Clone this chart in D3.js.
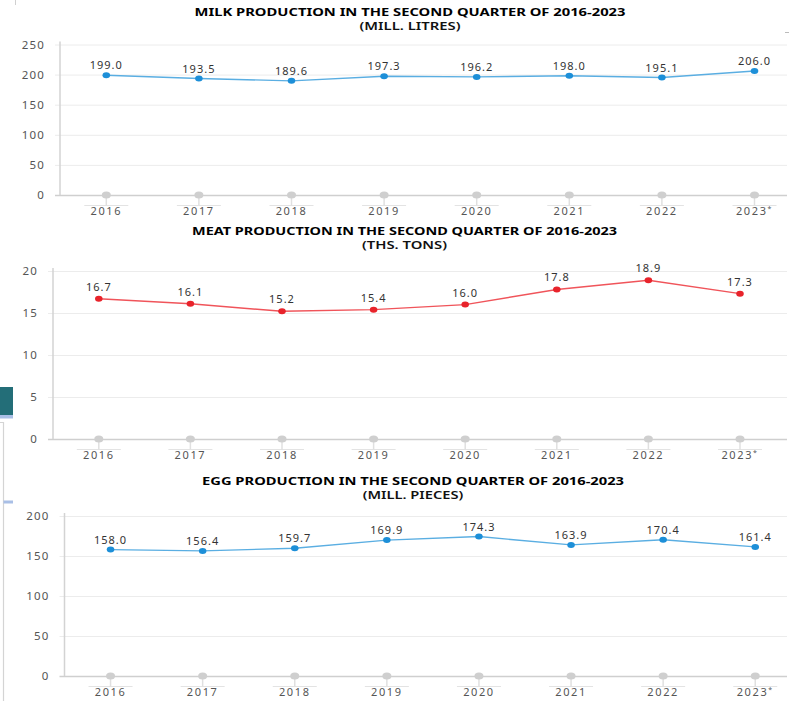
<!DOCTYPE html>
<html>
<head>
<meta charset="utf-8">
<script src="https://cdn.jsdelivr.net/npm/d3@7"></script>
<style>
  html, body { margin: 0; padding: 0; background: #fff; }
  svg { display: block; }
  text { font-family: "Noto Sans", "Open Sans", sans-serif; }
</style>
</head>
<body>
<svg id="chart" width="789" height="701"></svg>
<script>
// Production figures, second quarter of each year
const years = ["2016", "2017", "2018", "2019", "2020", "2021", "2022", "2023"];
const milkValues = [199.0, 193.5, 189.6, 197.3, 196.2, 198.0, 195.1, 206.0];
const meatValues = [16.7, 16.1, 15.2, 15.4, 16.0, 17.8, 18.9, 17.3];
const eggValues = [158.0, 156.4, 159.7, 169.9, 174.3, 163.9, 170.4, 161.4];

const milkTicks = [0, 50, 100, 150, 200, 250];
const meatTicks = [0, 5, 10, 15, 20];
const eggTicks = [0, 50, 100, 150, 200];

const milkTitle = "MILK PRODUCTION IN THE SECOND QUARTER OF 2016-2023";
const milkUnit = "(MILL. LITRES)";
const meatTitle = "MEAT PRODUCTION IN THE SECOND QUARTER OF 2016-2023";
const meatUnit = "(THS. TONS)";
const eggTitle = "EGG PRODUCTION IN THE SECOND QUARTER OF 2016-2023";
const eggUnit = "(MILL. PIECES)";

const svg = d3.select("#chart");

// Page furniture along the left edge
svg.append("line").attr("x1", 15.5).attr("x2", 15.5).attr("y1", 0).attr("y2", 5)
  .attr("stroke", "#d0d0d0").attr("stroke-width", 1);
svg.append("rect").attr("x", 0).attr("y", 387).attr("width", 13).attr("height", 28).attr("fill", "#236e78");
svg.append("rect").attr("x", 0).attr("y", 415).attr("width", 13).attr("height", 3.5).attr("fill", "#a9bfe6");
svg.append("path").attr("d", "M0,422.5 H3.5 V701").attr("fill", "none").attr("stroke", "#d4d4d4").attr("stroke-width", 1.2);
svg.append("rect").attr("x", 3.5).attr("y", 500.5).attr("width", 9.5).attr("height", 3).attr("fill", "#a9bfe6");
svg.append("line").attr("x1", 785).attr("x2", 789).attr("y1", 32.5).attr("y2", 32.5).attr("stroke", "#bbb");

function drawPanel(cfg) {
  const g = svg.append("g");
  const x = d3.scaleBand().domain(years).range([cfg.left, cfg.left + cfg.step * years.length]);
  const y = d3.scaleLinear().domain([0, d3.max(cfg.ticks)]).range([cfg.bottom, cfg.top]);
  const cx = d => x(d) + x.bandwidth() / 2;
  const right = 787;

  // Titles
  g.append("text").attr("x", cfg.titleX).attr("y", cfg.titleY)
    .attr("text-anchor", "middle").attr("font-size", 10.5).attr("font-weight", 700)
    .attr("fill", "#000").attr("textLength", cfg.titleLen).attr("lengthAdjust", "spacingAndGlyphs")
    .text(cfg.title);
  g.append("text").attr("x", cfg.titleX).attr("y", cfg.titleY + 14)
    .attr("text-anchor", "middle").attr("font-size", 10.5).attr("font-weight", 600)
    .attr("fill", "#111").attr("textLength", cfg.unitLen).attr("lengthAdjust", "spacingAndGlyphs")
    .text(cfg.unit);

  // Horizontal gridlines and value ticks
  const yAxis = d3.axisLeft(y).tickValues(cfg.ticks).tickSize(-(right - cfg.left + 5)).tickPadding(10)
    .tickFormat(d3.format("d"));
  const ag = g.append("g").attr("transform", `translate(${cfg.left - 5},0)`).call(yAxis);
  ag.select(".domain").remove();
  ag.selectAll(".tick line").attr("stroke", "#ececec").attr("stroke-width", 1);
  ag.selectAll(".tick line").filter(d => d === 0).attr("stroke", "#cfcfcf").attr("stroke-width", 1.5);
  ag.selectAll(".tick text").attr("fill", "#555").attr("font-size", 11.5)
    .attr("letter-spacing", 1.2).attr("font-family", "Noto Sans, sans-serif");

  // Vertical axis line
  g.append("line").attr("x1", cfg.left).attr("x2", cfg.left).attr("y1", cfg.top - 3).attr("y2", cfg.bottom)
    .attr("stroke", "#d3d3d3").attr("stroke-width", 1.5);

  // Category markers on the baseline
  const cat = g.append("g").selectAll("g").data(years).join("g");
  cat.append("line").attr("x1", d => cx(d) - 22).attr("x2", d => cx(d) + 22)
    .attr("y1", cfg.bottom + 10.5).attr("y2", cfg.bottom + 10.5).attr("stroke", "#e3e3e3");
  cat.append("line").attr("x1", d => cx(d)).attr("x2", d => cx(d))
    .attr("y1", cfg.bottom).attr("y2", cfg.bottom + 10.5).attr("stroke", "#e0e0e0").attr("stroke-width", 1.5);
  cat.append("ellipse").attr("cx", d => cx(d)).attr("cy", cfg.bottom).attr("rx", 4.5).attr("ry", 3.6)
    .attr("fill", "#cfcfcf");
  const lab = cat.append("text").attr("x", d => cx(d)).attr("y", cfg.bottom + 20)
    .attr("text-anchor", "middle").attr("font-size", 11).attr("fill", "#555").attr("letter-spacing", 1.6);
  lab.append("tspan").text(d => d);
  lab.filter((d, i) => i === years.length - 1).append("tspan")
    .attr("dy", -4).attr("font-size", 7).text("*");

  // Series line and points
  const pts = years.map((d, i) => ({ year: d, value: cfg.values[i] }));
  g.append("path").datum(pts)
    .attr("fill", "none").attr("stroke", cfg.lineColor).attr("stroke-width", 1.4)
    .attr("d", d3.line().x(d => cx(d.year)).y(d => y(d.value)));
  g.append("g").selectAll("ellipse").data(pts).join("ellipse")
    .attr("cx", d => cx(d.year)).attr("cy", d => y(d.value)).attr("rx", 3.8).attr("ry", 3)
    .attr("fill", cfg.dotColor);
  g.append("g").selectAll("text").data(pts).join("text")
    .attr("x", d => cx(d.year)).attr("y", d => y(d.value) - cfg.labelGap)
    .attr("text-anchor", "middle").attr("font-size", 11).attr("fill", "#333").attr("letter-spacing", 1)
    .text(d => d.value.toFixed(1));
}

drawPanel({
  title: milkTitle, unit: milkUnit, values: milkValues, ticks: milkTicks,
  left: 60, step: 92.6, top: 44.5, bottom: 195,
  titleX: 410, titleY: 15.5, titleLen: 431, unitLen: 101, labelGap: 6,
  lineColor: "#5aaee2", dotColor: "#1d8fd8"
});
drawPanel({
  title: meatTitle, unit: meatUnit, values: meatValues, ticks: meatTicks,
  left: 53, step: 91.6, top: 271, bottom: 439,
  titleX: 404.5, titleY: 234.5, titleLen: 425, unitLen: 85, labelGap: 8,
  lineColor: "#f0545a", dotColor: "#e8232b"
});
drawPanel({
  title: eggTitle, unit: eggUnit, values: eggValues, ticks: eggTicks,
  left: 64.5, step: 92.1, top: 516, bottom: 676,
  titleX: 413, titleY: 484.5, titleLen: 422, unitLen: 100.6, labelGap: 6,
  lineColor: "#5aaee2", dotColor: "#1d8fd8"
});
</script>
</body>
</html>
